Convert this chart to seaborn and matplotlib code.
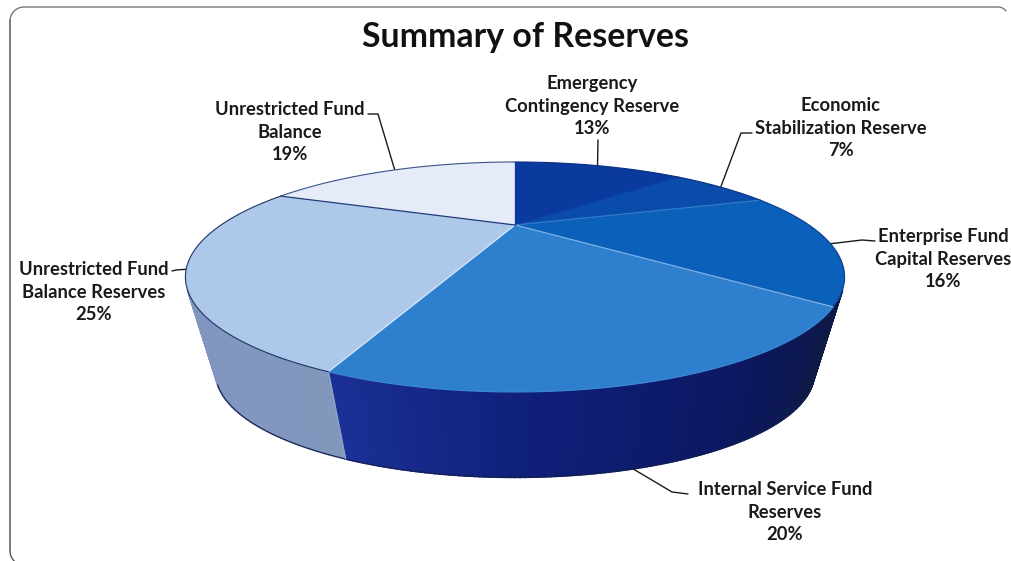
import numpy as np
import matplotlib
matplotlib.use("Agg")
import matplotlib.pyplot as plt
import seaborn as sns

# Reserve categories, clockwise from twelve o'clock
categories = [
    "Emergency\nContingency Reserve",
    "Economic\nStabilization Reserve",
    "Enterprise Fund\nCapital Reserves",
    "Internal Service Fund\nReserves",
    "Unrestricted Fund\nBalance Reserves",
    "Unrestricted Fund\nBalance",
]
shares = [13, 7, 16, 20, 25, 19]
title = "Summary of Reserves"

top_colors = ["#0a3a9e", "#0a4cab", "#0b60b9", "#2e80cf", "#aec8ea", "#e5ebf8"]
wall_ramps = [
    ["#0b2f80", "#0c2c78"],
    ["#0c2c78", "#0e2560"],
    ["#0e2560", "#0e1947"],
    ["#0e1947", "#0c1862", "#0f1f78", "#1b3096"],
    ["#8297bc", "#7f96c2", "#6f8dc4"],
    ["#6f8dc4", "#6f8dc4"],
]
seam_colors = ["#0a40a4", "#2f78c8", "#79aee6", "#d6e6f8", "#1f3a78", "#0a3a9e"]
rim_colors = ["#0a2f80", "#0a2f80", "#0a3f90", "#3d8ad6", "#1c3568", "#3a5585"]

sns.set_theme(style="white")
plt.rcParams["font.family"] = ["Lato", "DejaVu Sans"]

fig = plt.figure(figsize=(10.11, 5.61), dpi=100)
ax = fig.add_axes([0, 0, 1, 1])
ax.set_xlim(0, 1011)
ax.set_ylim(561, 0)
ax.axis("off")

# Perspective of the pie: a tilted disc seen through a homography
CX, CY, RX, RY, TILT = 515.0, 225.0, 294.0, 91.5, 0.452
VANISH_Y, DEPTH_SCALE = 1320.0, 0.908


def rim(theta):
    """Point of the upper rim at a clockwise angle (radians) from the top."""
    u, v = np.sin(theta), np.cos(theta)
    w = 1 + TILT * v
    return CX + RX * u / w, CY - RY * v / w


def floor(theta):
    """Matching point of the lower rim, pulled toward the vanishing point."""
    x, y = rim(theta)
    return CX + (x - CX) * DEPTH_SCALE, VANISH_Y - (VANISH_Y - y) * DEPTH_SCALE


def faces_viewer(theta):
    """True where the wall below the rim turns toward the viewer."""
    d = 1e-3
    x0, y0 = rim(theta - d)
    x1, y1 = rim(theta + d)
    xb, yb = floor(theta)
    xt, yt = rim(theta)
    return (x1 - x0) * (yb - yt) - (y1 - y0) * (xb - xt) < 0


edges = np.deg2rad(np.concatenate([[0], np.cumsum(shares)]) * 3.6)

# Side walls, drawn as shaded strips so the tone shifts around the disc
for i in range(len(shares)):
    steps = 120
    ramp = sns.blend_palette(wall_ramps[i], steps)
    ts = np.linspace(edges[i], edges[i + 1], steps + 1)
    for j in range(steps):
        if not faces_viewer((ts[j] + ts[j + 1]) / 2):
            continue
        seg = np.linspace(ts[j], ts[j + 1], 3)
        xt, yt = rim(seg)
        xb, yb = floor(seg[::-1])
        ax.fill(np.r_[xt, xb], np.r_[yt, yb], color=ramp[j], lw=1.2, zorder=1)

# Outline of the lower rim and the seam between the two visible walls
full = np.linspace(0, 2 * np.pi, 1200)
front = full[faces_viewer(full)]
ax.plot(*floor(front), color="#12204f", lw=0.8, zorder=2)
seam = edges[4]
ax.plot([rim(seam)[0], floor(seam)[0]], [rim(seam)[1], floor(seam)[1]],
        color="#8ea3c6", lw=0.8, zorder=2)

# Upper faces of the slices
for i in range(len(shares)):
    seg = np.linspace(edges[i], edges[i + 1], 120)
    xs, ys = rim(seg)
    ax.fill(np.r_[CX, xs], np.r_[CY, ys], color=top_colors[i], lw=0, zorder=3)

# Slice boundaries and the rim line
for i in range(len(shares)):
    x, y = rim(edges[i + 1])
    ax.plot([CX, x], [CY, y], color=seam_colors[i], lw=0.9, zorder=4)
    seg = np.linspace(edges[i], edges[i + 1], 120)
    ax.plot(*rim(seg), color=rim_colors[i], lw=0.8, zorder=4)

# Leader elbows and label centres, in figure pixels
elbows = [
    [(598, 140)],
    [(741, 133), (752, 133)],
    [(862, 240), (875, 241)],
    [(672, 492), (688, 494)],
    [(176, 270), (172, 271)],
    [(378, 114), (368, 114)],
]
label_xy = [(592, 106), (841, 128), (943, 259), (785, 512), (94, 292), (290, 132)]

mids = (edges[:-1] + edges[1:]) / 2
for i, (name, share) in enumerate(zip(categories, shares)):
    # The internal service slice is labelled from its wall, the rest from the rim
    start = floor(mids[i]) if i == 3 else rim(mids[i])
    pts = [start] + elbows[i]
    ax.plot([p[0] for p in pts], [p[1] for p in pts], color="#1a1a1a", lw=1.0, zorder=2)
    ax.text(*label_xy[i], f"{name}\n{share}%", ha="center", va="center",
            fontsize=13.2, fontweight="bold", color="#1a1a1a", linespacing=1.42,
            zorder=6)

ax.text(526, 37, title, ha="center", va="center", fontsize=24.4,
        fontweight="bold", color="#111111", zorder=6)

# Rounded chart frame: left side and top, with the lower corner leaving the canvas
corner = np.linspace(0, np.pi / 2, 20)
low_x, low_y = 24 - 14 * np.cos(corner[:13]), 551 + 14 * np.sin(corner[:13])
top_x, top_y = 24 - 14 * np.cos(corner), 21 - 14 * np.sin(corner)
end_x, end_y = 998 + 10 * np.sin(corner[:12]), 17 - 10 * np.cos(corner[:12])
ax.plot(low_x[::-1], low_y[::-1], color="#5a5a5a", lw=1.0, zorder=0)
ax.plot(np.r_[top_x, end_x], np.r_[top_y, end_y], color="#777777", lw=1.0, zorder=0)
ax.plot([10, 10], [21, 551], color="#5a5a5a", lw=1.1, zorder=0)

fig.savefig("out.png", dpi=100)
